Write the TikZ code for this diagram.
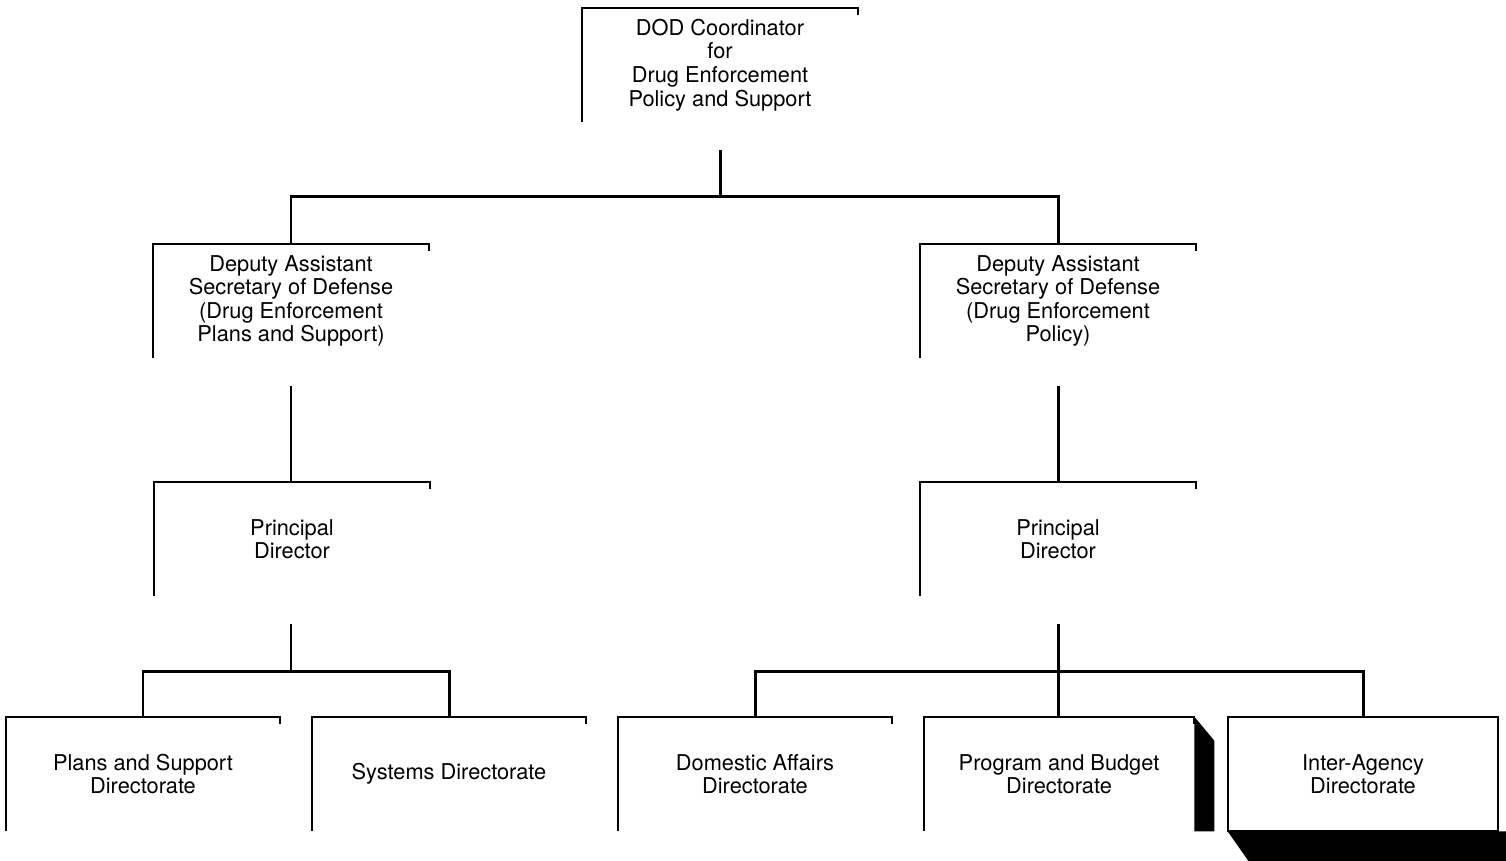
\documentclass[tikz,border=0pt]{standalone}
\usepackage{fontspec}
\setmainfont{TeX Gyre Heros}
\tikzset{
  orgbox/.style={rectangle,minimum width=5.5cm,minimum height=2.28cm,inner sep=0pt,align=center,
    font=\fontsize{12.4}{13.4}\selectfont},
  edge/.style={line width=1.1pt},
  conn/.style={line width=1.7pt}
}
\begin{document}
\begin{tikzpicture}[x=0.02cm,y=-0.02cm]
	\useasboundingbox (0,0) rectangle (1506,860);
	\node[orgbox] (dod) at (720,65) {DOD Coordinator\\for\\Drug Enforcement\\Policy and Support};
	\node[orgbox] (dasdL) at (291,301) {Deputy Assistant\\Secretary of Defense\\(Drug Enforcement\\Plans and Support)};
	\node[orgbox] (dasdR) at (1058,301) {Deputy Assistant\\Secretary of Defense\\(Drug Enforcement\\Policy)};
	\node[orgbox] (pdL) at (292,539) {Principal\\Director};
	\node[orgbox] (pdR) at (1058,539) {Principal\\Director};
	\node[orgbox,minimum width=5.45cm] (plans) at (143,774) {Plans and Support\\Directorate};
	\node[orgbox,minimum width=5.45cm] (systems) at (449,774) {Systems Directorate};
	\node[orgbox,minimum width=5.45cm] (domestic) at (755,774) {Domestic Affairs\\Directorate};
	\node[orgbox,minimum width=5.4cm] (program) at (1059,774) {Program and Budget\\Directorate};
	\node[orgbox,minimum width=5.4cm] (inter) at (1363,774) {Inter-Agency\\Directorate};
	
	% open box edges
	\foreach \n in {dod,dasdL,dasdR,pdL,pdR,plans,systems,domestic,program}
		\draw[edge] ([yshift=-0.14cm]\n.north east) -- (\n.north east) -- (\n.north west) -- (\n.south west);
	\draw[edge] (inter.north west) rectangle (inter.south east);
	\fill (program.north east) -- ++(20,24) -- ([xshift=0.4cm]program.south east) -- (program.south east) -- cycle;
	\fill (inter.south west) -- ++(21,30) -| ([xshift=0.16cm]inter.south east) -- cycle;
	
	% connectors
	\coordinate (busA) at (720,196);
	\coordinate (busB) at (291,671);
	\coordinate (busC) at (1058,671);
	\draw[conn] ([yshift=-0.56cm]dod.south) -- (busA);
	\draw[conn] (dasdL.north) |- (busA) -| (dasdR.north);
	\draw[conn] ([yshift=-0.56cm]dasdL.south) -- (pdL.north -| dasdL.south);
	\draw[conn] ([yshift=-0.56cm]dasdR.south) -- (pdR.north -| dasdR.south);
	\draw[conn] ([yshift=-0.56cm]pdL.south -| busB) -- (busB);
	\draw[conn] (plans.north) |- (busB) -| (systems.north);
	\draw[conn] ([yshift=-0.56cm]pdR.south -| busC) -- (program.north -| busC);
	\draw[conn] (domestic.north) |- (busC) -| (inter.north);
\end{tikzpicture}
\end{document}
